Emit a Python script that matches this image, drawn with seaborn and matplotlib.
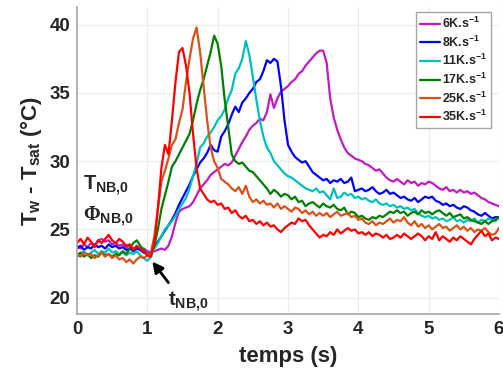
import numpy as np
import pandas as pd
import matplotlib
matplotlib.use("Agg")
import matplotlib.pyplot as plt
import seaborn as sns

# sampling times (s)
time_s = [round(0.05 * i, 2) for i in range(121)]

labels = ["6K.s$^{\\mathbf{-1}}$", "8K.s$^{\\mathbf{-1}}$", "11K.s$^{\\mathbf{-1}}$",
          "17K.s$^{\\mathbf{-1}}$", "25K.s$^{\\mathbf{-1}}$", "35K.s$^{\\mathbf{-1}}$"]

k6 = [23.8,
      23.6, 23.9, 23.7, 24.0, 23.8, 24.2, 24.3, 24.1, 24.2, 23.9,
      24.0, 23.8, 23.9, 23.7, 23.8, 23.6, 23.7, 23.5, 23.6, 23.4,
      23.3, 23.4, 23.5, 23.6, 23.5, 23.8, 24.5, 25.5, 26.3, 26.5,
      26.6, 26.7, 27.0, 27.5, 28.0, 28.3, 28.6, 29.0, 29.2, 29.4,
      29.6, 29.8, 29.7, 29.9, 30.4, 30.9, 31.4, 31.8, 32.3, 32.6,
      32.8, 33.1, 33.0, 33.6, 34.9, 33.9, 34.6, 35.1, 35.3, 35.5,
      35.8, 36.0, 36.4, 36.6, 37.0, 37.3, 37.6, 37.9, 38.1, 38.1,
      37.2, 34.6, 33.2, 32.3, 31.6, 31.0, 30.6, 30.4, 30.2, 30.1,
      30.0, 29.8, 29.7, 29.5, 29.3, 29.4, 29.1, 28.8, 28.6, 28.5,
      28.7, 28.5, 28.3, 28.6, 28.4, 28.5, 28.2, 28.4, 28.3, 28.5,
      28.4, 28.2, 28.0, 27.9, 28.1, 27.8, 27.9, 27.7, 27.9, 27.7,
      27.8, 27.6, 27.7, 27.5, 27.3, 27.2, 27.0, 26.9, 26.8, 26.7]

k8 = [23.6,
      23.8, 23.5, 23.7, 23.6, 23.9, 23.7, 23.8, 23.6, 23.9, 23.7,
      23.8, 23.6, 23.7, 23.5, 23.6, 23.4, 23.6, 23.5, 23.3, 23.2,
      23.3, 23.7, 24.1, 24.5, 24.9, 25.3, 25.7, 26.2, 26.8, 27.3,
      27.8, 28.3, 28.9, 29.4, 29.9, 30.2, 30.6, 31.2, 30.8, 30.7,
      31.8, 32.2, 32.7, 33.4, 34.0, 33.6, 34.3, 34.6, 35.0, 35.3,
      35.8, 36.0, 36.6, 37.4, 37.2, 37.5, 37.3, 35.5, 33.0, 31.2,
      30.7, 30.3, 30.1, 29.9, 30.0, 29.6, 29.2, 29.0, 28.8, 28.6,
      28.7, 28.4, 28.6, 28.5, 28.7, 28.4, 28.5, 28.8, 27.8, 27.9,
      28.0, 27.8, 27.9, 28.1, 27.8, 27.6, 27.7, 27.9, 27.6, 27.7,
      27.5, 27.3, 27.4, 27.2, 27.1, 27.3, 27.0, 27.2, 27.4, 27.3,
      27.4, 27.1, 27.0, 26.8, 26.9, 26.7, 26.8, 26.6, 26.5, 26.7,
      26.6, 26.4, 26.3, 26.1, 26.0, 26.2, 26.0, 25.8, 25.9, 25.9]

k11 = [23.0,
       23.2, 23.4, 23.1, 23.3, 23.5, 23.2, 23.4, 23.3, 23.6, 23.3,
       23.4, 23.2, 23.3, 23.1, 23.3, 23.2, 23.4, 23.1, 22.9, 22.7,
       23.0, 23.6, 24.0, 24.5, 25.0, 25.3, 25.6, 26.0, 26.5, 26.9,
       27.3, 28.0, 28.9, 29.8, 31.0, 31.3, 31.8, 32.1, 32.5, 33.0,
       33.3, 33.8, 34.6, 35.2, 36.4, 36.8, 37.5, 38.8, 37.8, 36.2,
       34.5, 33.0, 31.8, 31.0, 30.6, 30.0, 29.7, 29.4, 29.1, 28.9,
       28.8, 28.6, 28.4, 28.2, 28.0, 27.9, 27.8, 28.0, 27.7, 27.8,
       27.5, 27.2, 28.0, 27.3, 27.4, 27.7, 27.5, 27.6, 27.3, 27.4,
       27.2, 27.3, 27.1, 27.0, 27.2, 26.9, 26.8, 26.9, 26.7, 26.8,
       26.6, 26.7, 26.5, 26.6, 26.4, 26.5, 26.2, 26.0, 25.9, 26.0,
       25.8, 25.9, 25.7, 25.8, 25.6, 25.7, 25.9, 25.6, 25.7, 25.5,
       25.7, 25.6, 25.8, 25.5, 25.7, 25.6, 25.8, 25.7, 25.6, 25.9]

k17 = [23.1,
       23.3, 23.0, 23.2, 22.9, 23.1, 23.0, 23.3, 23.1, 23.2, 23.0,
       23.2, 23.1, 23.4, 23.2, 23.6, 24.0, 24.2, 23.8, 23.5, 23.1,
       23.2, 23.8, 25.0, 26.5, 27.5, 28.5, 29.6, 30.0, 30.5, 31.0,
       31.5, 32.0, 33.0, 34.2, 35.2, 36.0, 37.0, 38.0, 39.2, 38.6,
       37.0, 34.5, 32.5, 30.5, 30.0, 29.8, 29.9, 29.6, 29.3, 29.2,
       28.9, 28.6, 28.3, 28.0, 27.6, 27.9, 27.7, 27.4, 27.6, 27.5,
       27.2, 27.4, 27.0, 27.1, 26.7, 26.9, 27.0, 26.8, 26.6, 26.9,
       26.7, 26.6, 26.8, 26.5, 26.4, 26.6, 26.1, 26.3, 26.2, 25.9,
       26.0, 25.8, 25.7, 25.9, 25.8, 26.0, 25.9, 26.1, 26.3, 26.2,
       26.4, 26.2, 26.3, 26.0, 26.2, 26.3, 26.1, 26.4, 26.2, 26.3,
       26.1, 26.3, 26.4, 26.2, 26.0, 26.2, 25.9, 26.0, 26.1, 25.8,
       25.9, 25.7, 25.6, 25.5, 25.4, 25.6, 25.4, 25.6, 25.7, 25.9]

k25 = [23.2,
       23.0, 23.3, 23.1, 23.2, 22.9, 23.1, 23.3, 23.0, 23.2, 22.9,
       23.1, 22.8, 22.9, 22.6, 22.8, 22.5, 22.8, 23.0, 22.9, 23.1,
       23.3, 24.5, 26.5, 28.5, 29.3, 30.2, 31.2, 31.6, 32.8, 33.8,
       35.8, 37.5, 39.0, 39.8, 38.0, 35.5, 33.0, 31.0, 30.0, 29.5,
       28.7, 28.5, 28.3, 28.0, 27.8, 28.1, 27.6, 28.2, 27.4, 27.0,
       27.2, 26.9, 27.1, 26.8, 26.9, 26.6, 26.9, 26.5, 26.7, 26.5,
       26.3, 26.6, 26.5, 26.2, 26.4, 26.1, 26.3, 26.0, 26.2, 26.0,
       26.2, 25.9, 26.1, 26.3, 26.0, 26.1, 26.2, 25.9, 26.0, 25.7,
       25.8, 25.5, 25.4, 25.6, 25.3, 25.5, 25.4, 25.6, 25.8, 25.5,
       25.7, 25.6, 25.9, 25.5, 25.3, 25.6, 25.2, 25.4, 25.1, 25.3,
       25.0, 25.2, 25.4, 25.1, 25.2, 24.9, 25.1, 25.3, 25.0, 25.2,
       24.9, 25.1, 24.8, 25.0, 24.9, 25.1, 24.8, 24.6, 24.7, 25.1]

k35 = [24.0,
       24.3, 23.9, 24.4, 24.1, 23.7, 24.2, 24.0, 24.3, 24.6, 24.2,
       24.0, 24.3, 24.1, 23.8, 23.9, 23.5, 23.8, 23.6, 23.4, 23.1,
       23.0, 24.0, 26.5, 29.5, 31.2, 30.5, 33.0, 35.8, 38.0, 38.3,
       37.0, 35.0, 32.0, 29.5, 28.0, 27.6, 27.2, 27.0, 27.1, 26.8,
       26.9, 26.5, 26.6, 26.2, 26.4, 26.0, 25.8, 26.0, 25.6, 25.7,
       25.4, 25.6, 25.3, 25.5, 25.2, 25.3, 25.0, 24.8, 25.1, 25.3,
       25.5, 25.4, 25.8, 25.6, 25.7, 25.3, 25.0, 24.7, 24.4, 24.6,
       24.5, 24.8, 24.6, 25.0, 24.7, 24.9, 25.1, 24.9, 25.0, 24.7,
       24.8, 24.6, 24.8, 24.5, 24.7, 24.6, 24.4, 24.6, 24.3, 24.4,
       24.6, 24.4, 24.7, 24.5, 24.3, 24.5, 24.7, 24.5, 24.2, 24.5,
       24.3, 24.8, 24.2, 24.5, 24.3, 24.1, 24.4, 24.2, 24.5, 24.3,
       24.1, 23.9, 24.3, 24.6, 24.9, 24.5, 24.7, 24.2, 24.4, 24.3]

series = [k6, k8, k11, k17, k25, k35]
colors = ["#C21BC2", "#0000FF", "#00BFBF", "#008000", "#D95319", "#FF0000"]

x_ticks = [0, 1, 2, 3, 4, 5, 6]
y_ticks = [20, 25, 30, 35, 40]

sns.set_theme(style="whitegrid")
plt.rcParams["font.family"] = ["Liberation Sans", "DejaVu Sans"]
plt.rcParams["mathtext.fontset"] = "custom"
plt.rcParams["mathtext.rm"] = "Liberation Serif:bold"
plt.rcParams["mathtext.bf"] = "Liberation Sans:bold"
plt.rcParams["mathtext.it"] = "Liberation Sans:italic:bold"

frames = []
for lab, vals in zip(labels, series):
    frames.append(pd.DataFrame({"t": time_s, "T": vals, "rate": lab}))
df = pd.concat(frames, ignore_index=True)

fig = plt.figure(figsize=(5.03, 3.74), dpi=100)
ax = fig.add_axes([77 / 503, 1 - 314 / 374, (499 - 77) / 503, (314 - 7) / 374])

sns.lineplot(data=df, x="t", y="T", hue="rate", hue_order=labels,
             palette=dict(zip(labels, colors)), linewidth=1.6, ax=ax,
             legend=True, estimator=None, sort=False)

ax.set_xlim(0, 6)
ax.set_ylim(18.8, 41.3)
ax.set_xticks(x_ticks)
ax.set_yticks(y_ticks)
ax.set_xticklabels([str(v) for v in x_ticks], fontsize=13.5, fontweight="bold", color="#262626")
ax.set_yticklabels([str(v) for v in y_ticks], fontsize=13.5, fontweight="bold", color="#262626")
ax.grid(True, color="#EBEBEB", linewidth=0.8)
ax.set_facecolor("white")
for s in ["top", "right"]:
    ax.spines[s].set_visible(False)
for s in ["left", "bottom"]:
    ax.spines[s].set_color("#A6A6A6")
    ax.spines[s].set_linewidth(1.2)
ax.tick_params(axis="both", direction="in", length=3, width=0.8, color="#A6A6A6", pad=5)

ax.set_xlabel("temps (s)", fontsize=16, fontweight="bold", color="#262626", labelpad=6)
ax.set_ylabel("T$_{\\mathbf{w}}$ - T$_{\\mathbf{sat}}$ (°C)", fontsize=16,
              fontweight="bold", color="#262626", labelpad=4)

handles, _ = ax.get_legend_handles_labels()
leg = ax.legend(handles=handles, labels=labels, loc="upper right",
                bbox_to_anchor=(491 / 503, 1 - 12 / 374), bbox_transform=fig.transFigure,
                borderaxespad=0, fancybox=False, frameon=True, framealpha=1,
                edgecolor="#A6A6A6", handlelength=1.6,
                handletextpad=0.15, labelspacing=0.28, borderpad=0.3,
                prop={"weight": "bold", "size": 9})
leg.get_frame().set_linewidth(1.0)
for line in leg.get_lines():
    line.set_linewidth(1.6)

ax.text(0.085, 29.1, "T$_{\\mathbf{NB{,}0}}$", fontsize=14.5, fontweight="bold",
        color="#262626", va="top", ha="left")
ax.text(0.085, 26.8, "$\\Phi_{\\mathbf{NB{,}0}}$", fontsize=14.5, fontweight="bold",
        color="#262626", va="top", ha="left")
ax.text(1.30, 20.6, "t$_{\\mathbf{NB{,}0}}$", fontsize=14.5, fontweight="bold",
        color="#262626", va="top", ha="left")
ax.annotate("", xy=(1.07, 22.65), xytext=(1.30, 21.1),
            arrowprops=dict(arrowstyle="-|>", color="black", lw=2.0,
                            mutation_scale=16, shrinkA=0, shrinkB=0))

fig.savefig("out.png", dpi=100)
